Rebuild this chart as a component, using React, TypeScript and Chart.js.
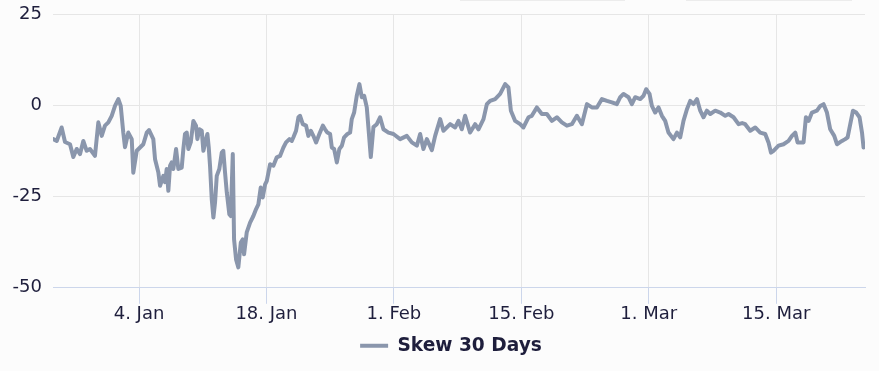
import React, { useEffect, useRef } from "react";
import { Chart, registerables } from "chart.js";

Chart.register(...registerables);

// x positions: days since 1 Jan (0 = 1 Jan 00:00)
const days: number[] = [
  -6.42, -6.04, -5.5, -5.13, -4.58, -4.22, -3.85, -3.48, -3.12, -2.75, -2.39, -1.84, -1.47, -1.1, -0.74, -0.37,
  0.0, 0.36, 0.73, 0.99, 1.27, 1.46, 1.82, 2.2, 2.37, 2.75, 3.11, 3.47, 3.85, 4.1, 4.57, 4.76, 5.12, 5.31, 5.67,
  5.86, 6.04, 6.22, 6.41, 6.59, 6.77, 7.07, 7.32, 7.69, 7.87, 8.05, 8.24, 8.42, 8.68, 8.97, 9.26, 9.41, 9.63, 9.89,
  10.07, 10.36, 10.51, 10.66, 10.8, 10.99, 11.17, 11.35, 11.54, 11.82, 12.09, 12.26, 12.45, 12.64, 12.92, 13.08,
  13.3, 13.44, 13.66, 13.91, 14.18, 14.4, 14.54, 14.83, 15.2, 15.56, 15.86, 16.11, 16.37, 16.59, 16.85, 17.03,
  17.4, 17.76, 18.13, 18.49, 18.86, 19.15, 19.52, 19.78, 19.96, 20.25, 20.51, 20.69, 20.99, 21.35, 21.6, 21.87,
  22.15, 22.45, 22.81, 23.19, 23.44, 23.69, 23.99, 24.18, 24.43, 24.73, 25.01, 25.28, 25.53, 25.89, 26.19, 26.37,
  26.63, 26.92, 27.21, 27.47, 27.73, 28.02, 28.2, 28.46, 28.75, 29.12, 29.48, 29.85, 30.4, 30.95, 31.68, 32.42,
  32.97, 33.52, 33.88, 34.24, 34.62, 35.17, 35.53, 36.08, 36.44, 37.18, 37.73, 38.09, 38.46, 38.82, 39.37, 39.92,
  40.29, 40.84, 41.21, 41.57, 42.12, 42.67, 43.22, 43.58, 43.85, 44.32, 44.87, 45.23, 45.78, 46.15, 46.7, 47.25,
  47.8, 48.35, 48.9, 49.45, 50.0, 50.55, 51.1, 51.65, 52.2, 52.75, 53.3, 53.85, 54.4, 54.95, 55.49, 55.86, 56.22,
  56.77, 57.14, 57.51, 58.06, 58.42, 58.71, 59.08, 59.34, 59.7, 60.07, 60.44, 60.8, 61.16, 61.71, 62.09, 62.45,
  62.81, 63.19, 63.55, 63.91, 64.29, 64.65, 65.01, 65.38, 65.75, 66.3, 66.85, 67.4, 67.76, 68.31, 68.86, 69.26,
  69.59, 70.14, 70.69, 71.24, 71.79, 72.15, 72.42, 72.7, 73.25, 73.8, 74.35, 74.73, 75.09, 75.34, 76.0, 76.26,
  76.55, 76.92, 77.47, 77.84, 78.2, 78.57, 78.93, 79.37, 79.67, 80.22, 80.58, 80.84, 81.13, 81.43, 81.79, 82.15,
  82.42, 82.59,
];

const skew30: number[] = [
  -9.2, -9.7, -6.0, -10.0, -10.6, -14.1, -11.9, -13.3, -9.7, -12.4, -11.9, -13.8, -4.6, -8.3, -5.5, -4.6,
  -2.8, -0.1, 1.8, -0.1, -7.4, -11.4, -7.4, -9.2, -18.4, -12.4, -11.5, -10.6, -7.4, -6.7, -9.2, -14.7, -18.3, -22.0, -19.3,
  -21.0, -17.4, -23.4, -16.5, -15.6, -17.4, -11.9, -17.4, -17.0, -11.9, -7.8, -7.4, -11.9, -10.1, -4.2, -5.5, -9.2, -6.5, -6.9,
  -12.4, -9.2, -7.8, -11.5, -16.5, -25.7, -30.7, -26.6, -19.3, -17.4, -12.9, -12.4, -18.4, -23.8, -29.8, -30.3,
  -13.3, -36.7, -42.2, -44.4, -37.6, -36.7, -40.8, -34.8, -32.1, -30.3, -28.4, -27.1, -22.5, -25.2, -21.6, -20.7,
  -16.1, -16.5, -14.2, -13.8, -11.5, -10.1, -9.2, -9.7, -8.7, -6.9, -3.2, -2.8, -5.1, -5.5, -8.3, -6.9,
  -8.3, -10.1, -7.8, -5.5, -6.5, -7.4, -7.8, -11.5, -11.9, -15.6, -11.9, -11.0, -8.7, -7.8, -7.4, -3.7,
  -1.9, 2.7, 5.9, 2.3, 2.7, -0.5, -6.0, -14.1, -5.9, -5.1, -3.2, -6.5, -7.4, -7.8, -9.2, -8.3,
  -10.1, -11.0, -7.8, -11.9, -9.2, -12.2, -8.3, -3.7, -6.9, -5.1, -6.0, -4.2, -6.5, -2.8, -7.4, -5.1,
  -6.5, -3.7, 0.4, 1.3, 1.8, 3.2, 5.9, 5.0, -1.4, -4.2, -5.1, -6.0, -3.2, -2.8, -0.5, -2.3,
  -2.3, -4.2, -3.2, -4.6, -5.5, -5.1, -2.8, -5.1, 0.4, -0.5, -0.5, 1.8, 1.3, 0.9, 0.4, 2.3, 3.2,
  2.3, 0.4, 2.3, 1.8, 2.7, 4.5, 3.2, -0.1, -1.9, -0.5, -2.8, -4.2, -7.4, -9.2, -7.4, -8.7,
  -4.2, -1.0, 1.3, 0.4, 1.8, -1.4, -3.2, -1.4, -2.3, -1.4, -1.9, -2.8, -2.3, -3.2, -5.1, -4.8,
  -5.1, -6.9, -6.0, -7.4, -7.8, -10.1, -12.9, -12.4, -11.0, -10.6, -9.7, -8.3, -7.4, -10.1, -10.1, -3.2,
  -4.2, -1.9, -1.4, -0.1, 0.4, -1.9, -6.5, -8.3, -10.6, -9.7, -9.2, -8.7, -5.1, -1.4, -1.9, -3.2,
  -7.4, -11.5,
];

const xTickDays: number[] = [3, 17, 31, 45, 59, 73];
const yTicks: number[] = [-50, -25, 0, 25];
const monthNames: string[] = ["Jan", "Feb", "Mar", "Apr", "May", "Jun", "Jul", "Aug", "Sep", "Oct", "Nov", "Dec"];
const seriesLabel = "Skew 30 Days";

const LINE = "#8a96ac";
const TEXT = "#1e1e3c";

function fmtDay(d: number): string {
  const dt = new Date(2023, 0, 1 + Math.round(d));
  return `${dt.getDate()}. ${monthNames[dt.getMonth()]}`;
}

const legendShift = {
  id: "legendShift",
  afterLayout(chart: any) {
    const lg = chart.legend;
    if (lg) {
      lg.left += 18.5;
      lg.right += 18.5;
    }
  },
};

export default function App() {
  const ref = useRef<HTMLCanvasElement | null>(null);
  useEffect(() => {
    document.body.style.margin = "0";
    const n = Math.min(days.length, skew30.length);
    const pts = [];
    for (let i = 0; i < n; i++) pts.push({ x: days[i], y: skew30[i] });
    const chart = new Chart(ref.current!, {
      type: "line",
      data: {
        datasets: [
          {
            label: seriesLabel,
            data: pts,
            borderColor: LINE,
            backgroundColor: LINE,
            borderWidth: 4,
            pointRadius: 0,
            tension: 0,
            borderJoinStyle: "round",
            borderCapStyle: "round",
          },
        ],
      },
      plugins: [legendShift],
      options: {
        animation: false,
        responsive: false,
        devicePixelRatio: 1,
        layout: { padding: { left: 0, right: 14, top: 14.5, bottom: 6 } },
        scales: {
          x: {
            type: "linear",
            min: -6.45,
            max: 82.75,
            afterBuildTicks: (s: any) => {
              s.ticks = xTickDays.map((v) => ({ value: v }));
            },
            afterFit: (s: any) => {
              s.paddingLeft = 0;
              s.paddingRight = 0;
            },
            ticks: {
              autoSkip: false,
              maxRotation: 0,
              padding: 0,
              color: TEXT,
              font: { family: "DejaVu Sans", size: 18 },
              callback: (v: any) => fmtDay(Number(v)),
            },
            grid: { color: "#e6e6e6", tickColor: "#ccd6eb", tickLength: 16, drawTicks: true },
            border: { display: true, color: "#ccd6eb", width: 1 },
          },
          y: {
            min: -50,
            max: 25,
            afterBuildTicks: (s: any) => {
              s.ticks = yTicks.map((v) => ({ value: v }));
            },
            afterFit: (s: any) => {
              s.width = 53;
              s.paddingTop = 0;
              s.paddingBottom = 0;
            },
            ticks: {
              padding: 11,
              color: TEXT,
              font: { family: "DejaVu Sans", size: 18 },
            },
            grid: { color: "#e6e6e6", drawTicks: false },
            border: { display: false },
          },
        },
        plugins: {
          tooltip: { enabled: false },
          legend: {
            position: "bottom",
            labels: {
              boxWidth: 28,
              boxHeight: 4,
              padding: 11,
              color: TEXT,
              font: { family: "DejaVu Sans", size: 18.6, weight: "bold" },
              generateLabels: (c: any) =>
                c.data.datasets.map((ds: any, i: number) => ({
                  text: ds.label,
                  fillStyle: LINE,
                  strokeStyle: LINE,
                  lineWidth: 0,
                  hidden: false,
                  datasetIndex: i,
                  fontColor: TEXT,
                })),
            },
          },
        },
      },
    } as any);
    return () => chart.destroy();
  }, []);
  return (
    <div style={{ position: "relative", width: 879, height: 371, background: "#fcfcfc", overflow: "hidden" }}>
      <div style={{ position: "absolute", left: 460, top: 0, width: 165, height: 1, background: "#ececec" }} />
      <div style={{ position: "absolute", left: 686, top: 0, width: 166, height: 1, background: "#ececec" }} />
      <canvas ref={ref} width={879} height={371} style={{ display: "block" }} />
    </div>
  );
}
